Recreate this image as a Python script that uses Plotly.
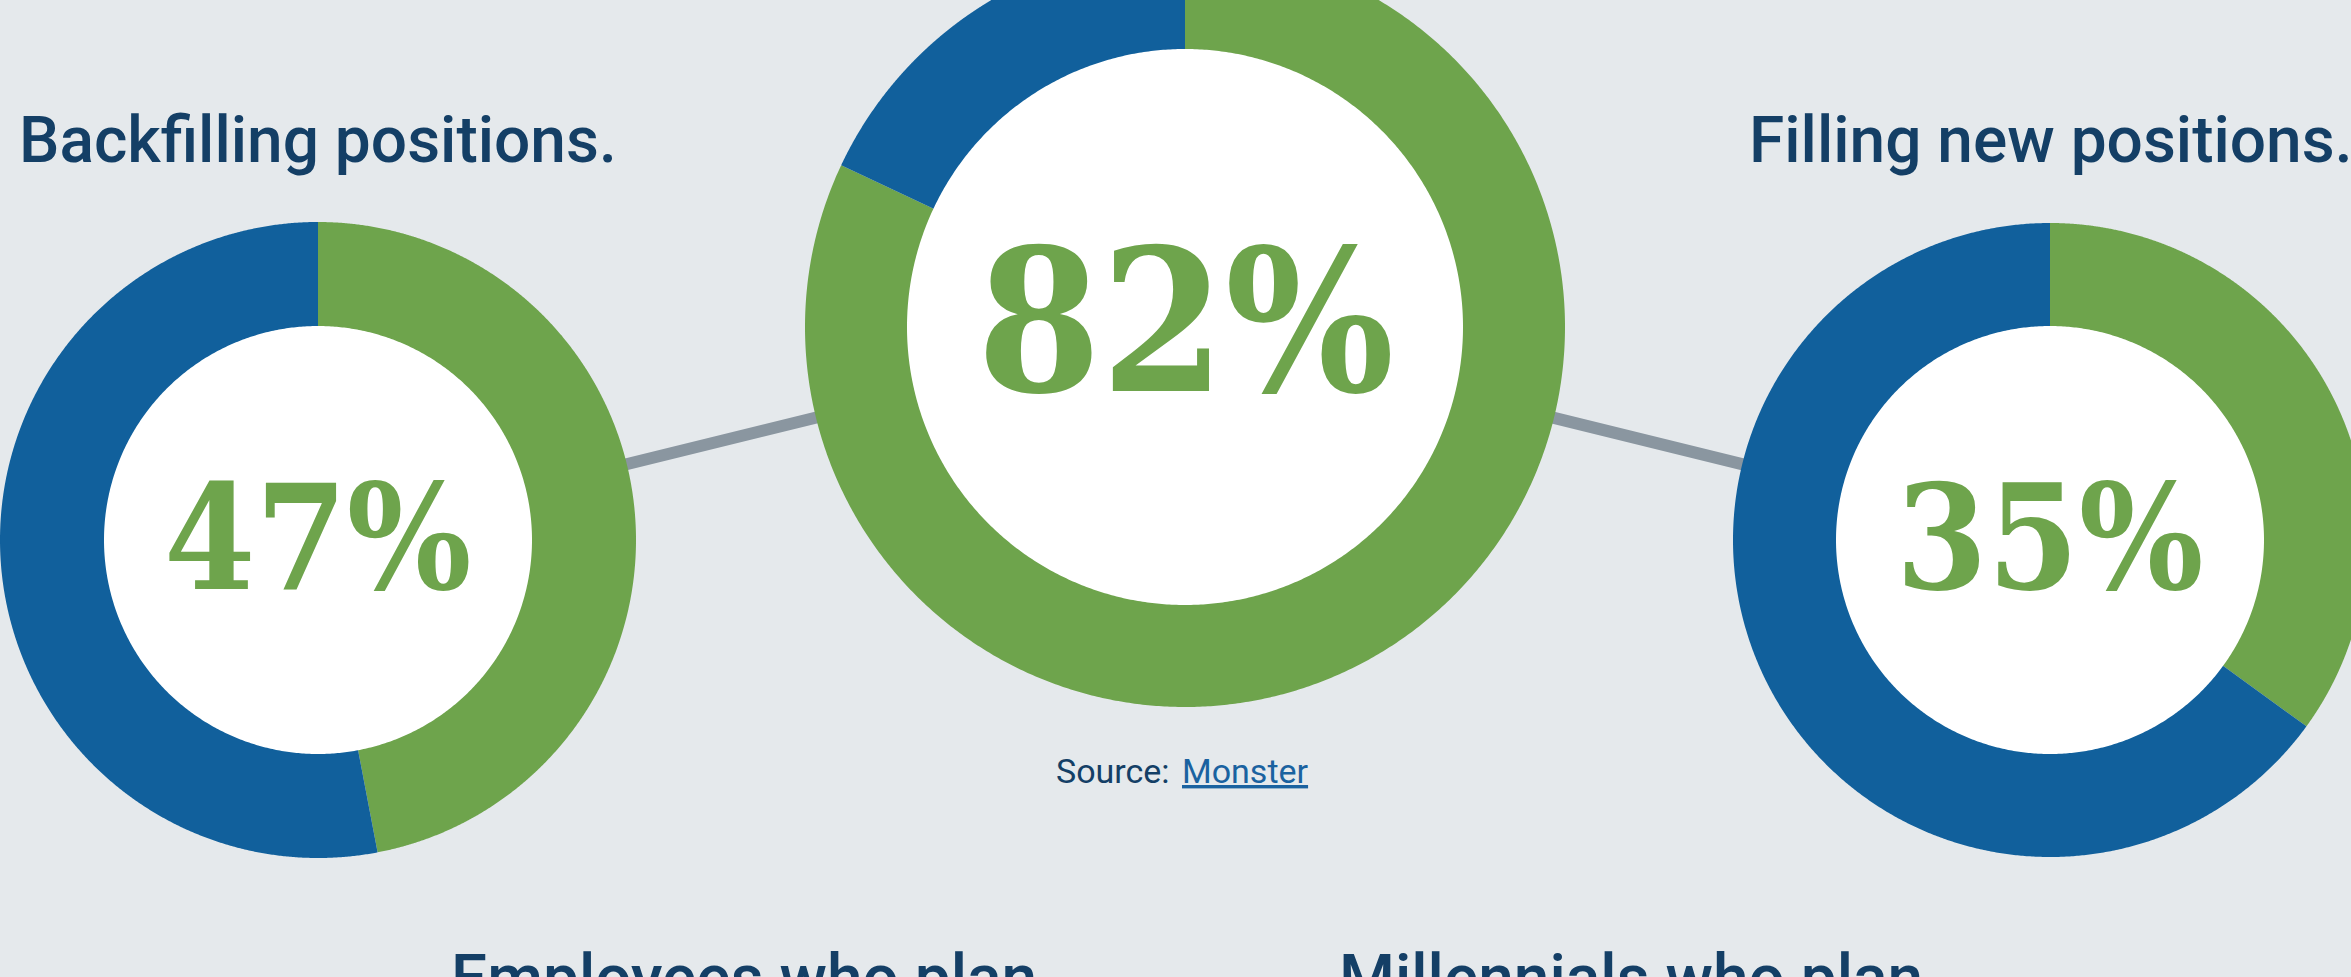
import numpy as np
import plotly.graph_objects as go

# ---- data ----
titles = ["Backfilling positions.", "", "Filling new positions."]
values = [47, 82, 35]            # percent shown in green
value_text = ["47%", "82%", "35%"]
bottom_labels = ["Employees who plan", "Millennials who plan"]
source_label = "Source:"
source_link = "Monster"

# ---- style ----
GREEN = "#6ea44c"
BLUE = "#11609c"
NAVY = "#143f66"
BG = "#e5e9ec"
LINE = "#8a96a0"
LINK = "#1a62a0"

W, H = 2351, 977
centers = [(318, 540), (1185, 327), (2050, 540)]
r_outer = [318, 380, 317]
r_inner = [214, 278, 214]
pct_sizes = [146, 198, 146]
pct_shift = [3, 6, 3]
bottom_x = [744, 1631]


def wedge(cx, cy, r, f0, f1, n=720):
    t = np.linspace(f0, f1, n) * 2 * np.pi
    xs = np.concatenate([[cx], cx + r * np.sin(t), [cx]])
    ys = np.concatenate([[cy], cy - r * np.cos(t), [cy]])
    return xs, ys


fig = go.Figure()

# connector line through donut centres (behind the donuts)
fig.add_trace(go.Scatter(
    x=[c[0] for c in centers], y=[c[1] for c in centers], mode="lines",
    line=dict(color=LINE, width=12), hoverinfo="skip"))

for (cx, cy), ro, ri, v in zip(centers, r_outer, r_inner, values):
    share = v / 100.0
    for f0, f1, col in [(0, share, GREEN), (share, 1, BLUE)]:
        xs, ys = wedge(cx, cy, ro, f0, f1)
        fig.add_trace(go.Scatter(x=xs, y=ys, mode="lines", fill="toself",
                                 fillcolor=col,
                                 line=dict(width=0, color=col, simplify=False),
                                 hoverinfo="skip"))
    xs, ys = wedge(cx, cy, ri, 0, 1)
    fig.add_trace(go.Scatter(x=xs[1:-1], y=ys[1:-1], mode="lines", fill="toself",
                             fillcolor="white",
                             line=dict(width=0, color="white", simplify=False),
                             hoverinfo="skip"))

ann = []
for (cx, cy), txt, fs, sh in zip(centers, value_text, pct_sizes, pct_shift):
    ann.append(dict(x=cx, y=cy, xref="x", yref="y", text=txt, showarrow=False,
                    xanchor="center", yanchor="middle", yshift=sh,
                    font=dict(family="DejaVu Serif Condensed, DejaVu Serif", size=fs,
                              color=GREEN, weight="bold")))
for (cx, cy), t in zip(centers, titles):
    if t:
        ann.append(dict(x=cx, y=140, xref="x", yref="y", text=t, showarrow=False,
                        xanchor="center", yanchor="middle",
                        font=dict(family="Roboto", size=64, color=NAVY, weight=500)))
for bx, t in zip(bottom_x, bottom_labels):
    ann.append(dict(x=bx, y=960, xref="x", yref="y", text=t, showarrow=False,
                    xanchor="center", yanchor="middle", yshift=-18,
                    font=dict(family="Roboto", size=64, color=NAVY, weight=500)))
ann.append(dict(x=1172, y=771, xref="x", yref="y", text=source_label, showarrow=False,
                xanchor="right", yanchor="middle",
                font=dict(family="Roboto", size=34, color=NAVY)))
ann.append(dict(x=1180, y=771, xref="x", yref="y", text=source_link, showarrow=False,
                xanchor="left", yanchor="middle",
                font=dict(family="Roboto", size=34, color=LINK, lineposition="under")))

fig.update_layout(
    width=W, height=H, margin=dict(l=0, r=0, t=0, b=0),
    paper_bgcolor=BG, plot_bgcolor=BG, showlegend=False,
    xaxis=dict(range=[0, W], visible=False, fixedrange=True),
    yaxis=dict(range=[H, 0], visible=False, fixedrange=True),
    annotations=ann,
)

fig.write_html("out.html", config={"displayModeBar": False})
